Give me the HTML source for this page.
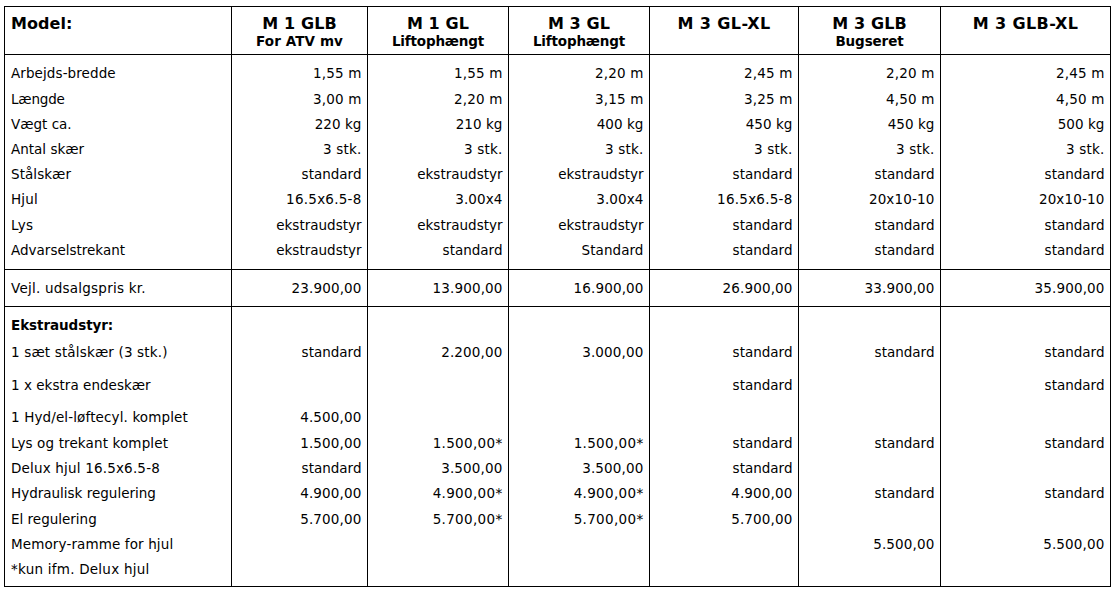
<!DOCTYPE html>
<html lang="da">
<head>
<meta charset="utf-8">
<title>Model oversigt</title>
<style>
html,body{margin:0;padding:0;background:#fff;}
body{width:1114px;height:591px;position:relative;overflow:hidden;font-family:"DejaVu Sans","Liberation Sans",sans-serif;color:#000;}
.v,.hl{position:absolute;background:#000;}
.v{width:1px;}
.hl{height:1px;}
.t{position:absolute;white-space:nowrap;font-size:13.5px;line-height:20px;height:20px;}
.l{left:11px;text-align:left;}
.r{text-align:right;}
.c{text-align:center;}
.b{font-weight:bold;}
.h{font-weight:bold;font-size:16px;}

</style>
</head>
<body>
<div class="v" style="left:4px;top:6px;height:581px"></div>
<div class="v" style="left:231px;top:6px;height:581px"></div>
<div class="v" style="left:367px;top:6px;height:581px"></div>
<div class="v" style="left:508px;top:6px;height:581px"></div>
<div class="v" style="left:649px;top:6px;height:581px"></div>
<div class="v" style="left:798px;top:6px;height:581px"></div>
<div class="v" style="left:940px;top:6px;height:581px"></div>
<div class="v" style="left:1110px;top:6px;height:581px"></div>
<div class="hl" style="left:4px;top:6px;width:1107px"></div>
<div class="hl" style="left:4px;top:54px;width:1107px"></div>
<div class="hl" style="left:4px;top:269px;width:1107px"></div>
<div class="hl" style="left:4px;top:306px;width:1107px"></div>
<div class="hl" style="left:4px;top:586px;width:1107px"></div>
<div class="t l h" style="top:14px;letter-spacing:0.04px">Model:</div>
<div class="t c h" style="top:14px;left:232px;width:135px;letter-spacing:0.14px">M 1 GLB</div>
<div class="t c b" style="top:31px;left:232px;width:135px;letter-spacing:0.1px">For ATV mv</div>
<div class="t c h" style="top:14px;left:368px;width:140px;letter-spacing:0.11px">M 1 GL</div>
<div class="t c b" style="top:31px;left:368px;width:140px;letter-spacing:-0.16px">Liftophængt</div>
<div class="t c h" style="top:14px;left:509px;width:140px;letter-spacing:0.11px">M 3 GL</div>
<div class="t c b" style="top:31px;left:509px;width:140px;letter-spacing:-0.16px">Liftophængt</div>
<div class="t c h" style="top:14px;left:650px;width:148px;letter-spacing:0.4px">M 3 GL-XL</div>
<div class="t c h" style="top:14px;left:799px;width:141px;letter-spacing:0.14px">M 3 GLB</div>
<div class="t c b" style="top:31px;left:799px;width:141px;letter-spacing:-0.12px">Bugseret</div>
<div class="t c h" style="top:14px;left:941px;width:169px;letter-spacing:0.39px">M 3 GLB-XL</div>
<div class="t l" style="top:63px;letter-spacing:0.09px">Arbejds-bredde</div>
<div class="t r" style="top:63px;left:232px;width:129.5px;letter-spacing:0.17px">1,55 m</div>
<div class="t r" style="top:63px;left:368px;width:134.5px;letter-spacing:0.17px">1,55 m</div>
<div class="t r" style="top:63px;left:509px;width:134.5px;letter-spacing:0.17px">2,20 m</div>
<div class="t r" style="top:63px;left:650px;width:142.5px;letter-spacing:0.17px">2,45 m</div>
<div class="t r" style="top:63px;left:799px;width:135.5px;letter-spacing:0.17px">2,20 m</div>
<div class="t r" style="top:63px;left:941px;width:163.5px;letter-spacing:0.17px">2,45 m</div>
<div class="t l" style="top:89px;letter-spacing:-0.17px">Længde</div>
<div class="t r" style="top:89px;left:232px;width:129.5px;letter-spacing:0.17px">3,00 m</div>
<div class="t r" style="top:89px;left:368px;width:134.5px;letter-spacing:0.17px">2,20 m</div>
<div class="t r" style="top:89px;left:509px;width:134.5px;letter-spacing:0.17px">3,15 m</div>
<div class="t r" style="top:89px;left:650px;width:142.5px;letter-spacing:0.17px">3,25 m</div>
<div class="t r" style="top:89px;left:799px;width:135.5px;letter-spacing:0.17px">4,50 m</div>
<div class="t r" style="top:89px;left:941px;width:163.5px;letter-spacing:0.17px">4,50 m</div>
<div class="t l" style="top:114px">Vægt ca.</div>
<div class="t r" style="top:114px;left:232px;width:129.5px;letter-spacing:0.07px">220 kg</div>
<div class="t r" style="top:114px;left:368px;width:134.5px;letter-spacing:0.07px">210 kg</div>
<div class="t r" style="top:114px;left:509px;width:134.5px;letter-spacing:0.07px">400 kg</div>
<div class="t r" style="top:114px;left:650px;width:142.5px;letter-spacing:0.07px">450 kg</div>
<div class="t r" style="top:114px;left:799px;width:135.5px;letter-spacing:0.07px">450 kg</div>
<div class="t r" style="top:114px;left:941px;width:163.5px;letter-spacing:0.07px">500 kg</div>
<div class="t l" style="top:139px">Antal skær</div>
<div class="t r" style="top:139px;left:232px;width:129.5px;letter-spacing:0.21px">3 stk.</div>
<div class="t r" style="top:139px;left:368px;width:134.5px;letter-spacing:0.21px">3 stk.</div>
<div class="t r" style="top:139px;left:509px;width:134.5px;letter-spacing:0.21px">3 stk.</div>
<div class="t r" style="top:139px;left:650px;width:142.5px;letter-spacing:0.21px">3 stk.</div>
<div class="t r" style="top:139px;left:799px;width:135.5px;letter-spacing:0.21px">3 stk.</div>
<div class="t r" style="top:139px;left:941px;width:163.5px;letter-spacing:0.21px">3 stk.</div>
<div class="t l" style="top:164px;letter-spacing:0.06px">Stålskær</div>
<div class="t r" style="top:164px;left:232px;width:129.5px">standard</div>
<div class="t r" style="top:164px;left:368px;width:134.5px">ekstraudstyr</div>
<div class="t r" style="top:164px;left:509px;width:134.5px">ekstraudstyr</div>
<div class="t r" style="top:164px;left:650px;width:142.5px">standard</div>
<div class="t r" style="top:164px;left:799px;width:135.5px">standard</div>
<div class="t r" style="top:164px;left:941px;width:163.5px">standard</div>
<div class="t l" style="top:189px;letter-spacing:0.2px">Hjul</div>
<div class="t r" style="top:189px;left:232px;width:129.5px;letter-spacing:0.24px">16.5x6.5-8</div>
<div class="t r" style="top:189px;left:368px;width:134.5px;letter-spacing:0.1px">3.00x4</div>
<div class="t r" style="top:189px;left:509px;width:134.5px;letter-spacing:0.1px">3.00x4</div>
<div class="t r" style="top:189px;left:650px;width:142.5px;letter-spacing:0.24px">16.5x6.5-8</div>
<div class="t r" style="top:189px;left:799px;width:135.5px;letter-spacing:0.15px">20x10-10</div>
<div class="t r" style="top:189px;left:941px;width:163.5px;letter-spacing:0.15px">20x10-10</div>
<div class="t l" style="top:215px;letter-spacing:0.41px">Lys</div>
<div class="t r" style="top:215px;left:232px;width:129.5px">ekstraudstyr</div>
<div class="t r" style="top:215px;left:368px;width:134.5px">ekstraudstyr</div>
<div class="t r" style="top:215px;left:509px;width:134.5px">ekstraudstyr</div>
<div class="t r" style="top:215px;left:650px;width:142.5px">standard</div>
<div class="t r" style="top:215px;left:799px;width:135.5px">standard</div>
<div class="t r" style="top:215px;left:941px;width:163.5px">standard</div>
<div class="t l" style="top:240px">Advarselstrekant</div>
<div class="t r" style="top:240px;left:232px;width:129.5px">ekstraudstyr</div>
<div class="t r" style="top:240px;left:368px;width:134.5px">standard</div>
<div class="t r" style="top:240px;left:509px;width:134.5px;letter-spacing:0.06px">Standard</div>
<div class="t r" style="top:240px;left:650px;width:142.5px">standard</div>
<div class="t r" style="top:240px;left:799px;width:135.5px">standard</div>
<div class="t r" style="top:240px;left:941px;width:163.5px">standard</div>
<div class="t l" style="top:278px;letter-spacing:0.23px">Vejl. udsalgspris kr.</div>
<div class="t r" style="top:278px;left:232px;width:129.5px;letter-spacing:0.13px">23.900,00</div>
<div class="t r" style="top:278px;left:368px;width:134.5px;letter-spacing:0.13px">13.900,00</div>
<div class="t r" style="top:278px;left:509px;width:134.5px;letter-spacing:0.13px">16.900,00</div>
<div class="t r" style="top:278px;left:650px;width:142.5px;letter-spacing:0.13px">26.900,00</div>
<div class="t r" style="top:278px;left:799px;width:135.5px;letter-spacing:0.13px">33.900,00</div>
<div class="t r" style="top:278px;left:941px;width:163.5px;letter-spacing:0.13px">35.900,00</div>
<div class="t l b" style="top:315px;letter-spacing:-0.07px">Ekstraudstyr:</div>
<div class="t l" style="top:342px;letter-spacing:0.16px">1 sæt stålskær (3 stk.)</div>
<div class="t r" style="top:342px;left:232px;width:129.5px">standard</div>
<div class="t r" style="top:342px;left:368px;width:134.5px;letter-spacing:0.15px">2.200,00</div>
<div class="t r" style="top:342px;left:509px;width:134.5px;letter-spacing:0.15px">3.000,00</div>
<div class="t r" style="top:342px;left:650px;width:142.5px">standard</div>
<div class="t r" style="top:342px;left:799px;width:135.5px">standard</div>
<div class="t r" style="top:342px;left:941px;width:163.5px">standard</div>
<div class="t l" style="top:375px;letter-spacing:0.03px">1 x ekstra endeskær</div>
<div class="t r" style="top:375px;left:650px;width:142.5px">standard</div>
<div class="t r" style="top:375px;left:941px;width:163.5px">standard</div>
<div class="t l" style="top:407px;letter-spacing:0.13px">1 Hyd/el-løftecyl. komplet</div>
<div class="t r" style="top:407px;left:232px;width:129.5px;letter-spacing:0.15px">4.500,00</div>
<div class="t l" style="top:433px;letter-spacing:0.13px">Lys og trekant komplet</div>
<div class="t r" style="top:433px;left:232px;width:129.5px;letter-spacing:0.15px">1.500,00</div>
<div class="t r" style="top:433px;left:368px;width:134.5px;letter-spacing:0.33px">1.500,00*</div>
<div class="t r" style="top:433px;left:509px;width:134.5px;letter-spacing:0.33px">1.500,00*</div>
<div class="t r" style="top:433px;left:650px;width:142.5px">standard</div>
<div class="t r" style="top:433px;left:799px;width:135.5px">standard</div>
<div class="t r" style="top:433px;left:941px;width:163.5px">standard</div>
<div class="t l" style="top:458px;letter-spacing:0.18px">Delux hjul 16.5x6.5-8</div>
<div class="t r" style="top:458px;left:232px;width:129.5px">standard</div>
<div class="t r" style="top:458px;left:368px;width:134.5px;letter-spacing:0.15px">3.500,00</div>
<div class="t r" style="top:458px;left:509px;width:134.5px;letter-spacing:0.15px">3.500,00</div>
<div class="t r" style="top:458px;left:650px;width:142.5px">standard</div>
<div class="t l" style="top:483px">Hydraulisk regulering</div>
<div class="t r" style="top:483px;left:232px;width:129.5px;letter-spacing:0.15px">4.900,00</div>
<div class="t r" style="top:483px;left:368px;width:134.5px;letter-spacing:0.33px">4.900,00*</div>
<div class="t r" style="top:483px;left:509px;width:134.5px;letter-spacing:0.33px">4.900,00*</div>
<div class="t r" style="top:483px;left:650px;width:142.5px;letter-spacing:0.15px">4.900,00</div>
<div class="t r" style="top:483px;left:799px;width:135.5px">standard</div>
<div class="t r" style="top:483px;left:941px;width:163.5px">standard</div>
<div class="t l" style="top:509px">El regulering</div>
<div class="t r" style="top:509px;left:232px;width:129.5px;letter-spacing:0.15px">5.700,00</div>
<div class="t r" style="top:509px;left:368px;width:134.5px;letter-spacing:0.33px">5.700,00*</div>
<div class="t r" style="top:509px;left:509px;width:134.5px;letter-spacing:0.33px">5.700,00*</div>
<div class="t r" style="top:509px;left:650px;width:142.5px;letter-spacing:0.15px">5.700,00</div>
<div class="t l" style="top:534px;letter-spacing:0.12px">Memory-ramme for hjul</div>
<div class="t r" style="top:534px;left:799px;width:135.5px;letter-spacing:0.15px">5.500,00</div>
<div class="t r" style="top:534px;left:941px;width:163.5px;letter-spacing:0.15px">5.500,00</div>
<div class="t l" style="top:559px;letter-spacing:0.24px">*kun ifm. Delux hjul</div>
</body>
</html>
